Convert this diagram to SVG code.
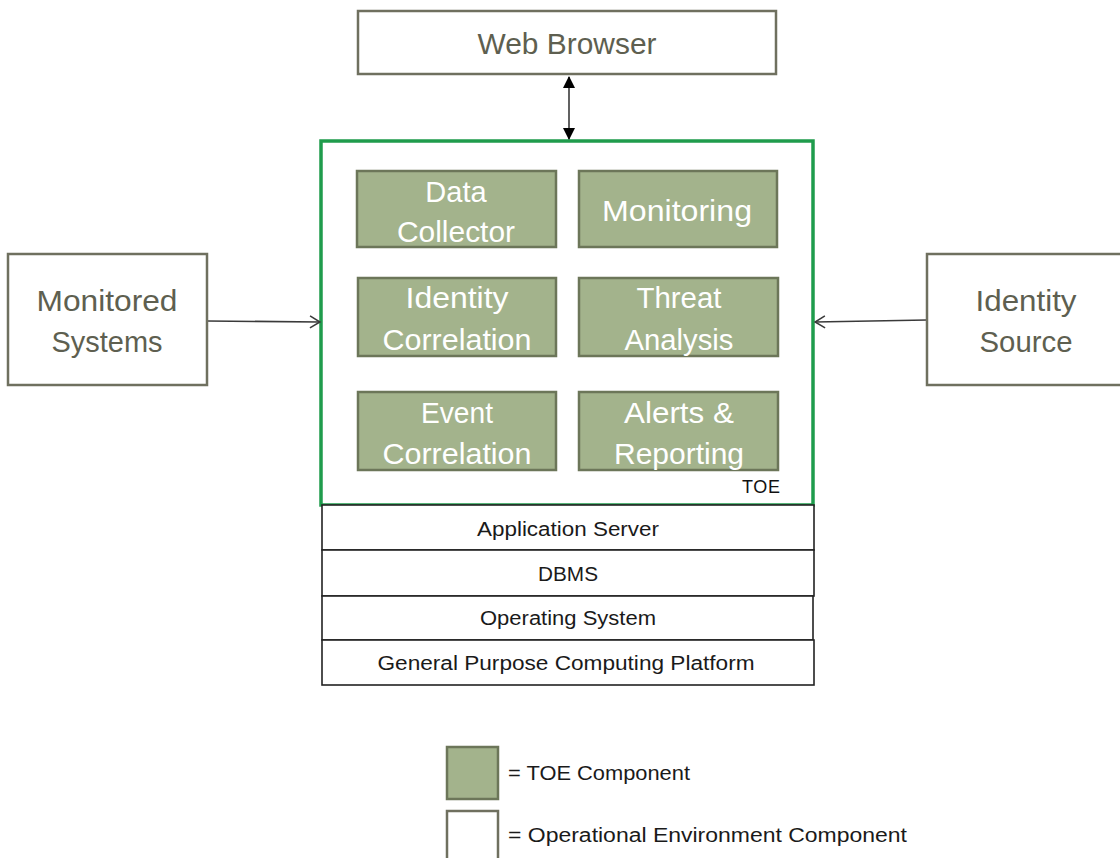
<svg xmlns="http://www.w3.org/2000/svg" width="1120" height="858" viewBox="0 0 1120 858">
  <style>
    .env { fill: #ffffff; stroke: #6f705f; stroke-width: 2.5; }
    .envtxt { font-family: "Liberation Sans", Arial, sans-serif; font-size: 29px; fill: #5e5f50; text-anchor: middle; }
    .comp { fill: #a3b38c; stroke: #6c7659; stroke-width: 2.5; }
    .comptxt { font-family: "Liberation Sans", Arial, sans-serif; font-size: 29px; fill: #ffffff; text-anchor: middle; }
    .layer { fill: #ffffff; stroke: #222222; stroke-width: 1.6; }
    .layertxt { font-family: "Liberation Sans", Arial, sans-serif; font-size: 20px; fill: #1a1a1a; text-anchor: middle; }
    .legtxt { font-family: "Liberation Sans", Arial, sans-serif; font-size: 20px; fill: #1a1a1a; }
    .toe { fill: #ffffff; stroke: #1f9c4c; stroke-width: 3.5; }
    .wire { stroke: #3a3a3a; stroke-width: 1.6; fill: none; }
  </style>
  <defs>
    <marker id="solid" viewBox="0 0 12 12" refX="11" refY="6" markerWidth="12" markerHeight="12" markerUnits="userSpaceOnUse" orient="auto-start-reverse">
      <path d="M0,0 L12,6 L0,12 Z" fill="#000000"/>
    </marker>
    <marker id="open" viewBox="0 0 12 14" refX="11" refY="7" markerWidth="12" markerHeight="14" markerUnits="userSpaceOnUse" orient="auto">
      <path d="M1,1 L11,7 L1,13" fill="none" stroke="#3a3a3a" stroke-width="1.6"/>
    </marker>
  </defs>

  <rect width="1120" height="858" fill="#ffffff"/>

  <!-- TOE boundary -->
  <g id="toe">
    <rect class="toe" x="321" y="141" width="492" height="364"/>
    <text x="761" y="493" font-family="Liberation Sans, Arial, sans-serif" font-size="18" fill="#111111" text-anchor="middle" textLength="38">TOE</text>
  </g>

  <!-- Connectors -->
  <g id="connectors">
    <line class="wire" x1="569" y1="77" x2="569" y2="139" stroke="#000000" marker-start="url(#solid)" marker-end="url(#solid)"/>
    <line class="wire" x1="207" y1="321" x2="320" y2="322" marker-end="url(#open)"/>
    <line class="wire" x1="927" y1="320" x2="815" y2="322" marker-end="url(#open)"/>
  </g>

  <!-- External components -->
  <g id="web-browser">
    <rect class="env" x="358" y="11" width="418" height="63"/>
    <text class="envtxt" x="567" y="54" textLength="179" lengthAdjust="spacingAndGlyphs">Web Browser</text>
  </g>
  <g id="monitored-systems">
    <rect class="env" x="8" y="254" width="199" height="131"/>
    <text class="envtxt" x="107" y="311" textLength="141" lengthAdjust="spacingAndGlyphs">Monitored</text>
    <text class="envtxt" x="107" y="352" textLength="111" lengthAdjust="spacingAndGlyphs">Systems</text>
  </g>
  <g id="identity-source">
    <rect class="env" x="927" y="254" width="200" height="131"/>
    <text class="envtxt" x="1026" y="311" textLength="101" lengthAdjust="spacingAndGlyphs">Identity</text>
    <text class="envtxt" x="1026" y="352" textLength="93" lengthAdjust="spacingAndGlyphs">Source</text>
  </g>

  <!-- TOE components -->
  <g id="data-collector">
    <rect class="comp" x="357" y="171" width="199" height="76"/>
    <text class="comptxt" x="456" y="202">Data</text>
    <text class="comptxt" x="456" y="242" textLength="118" lengthAdjust="spacingAndGlyphs">Collector</text>
  </g>
  <g id="monitoring">
    <rect class="comp" x="579" y="171" width="198" height="76"/>
    <text class="comptxt" x="677" y="221" textLength="150" lengthAdjust="spacingAndGlyphs">Monitoring</text>
  </g>
  <g id="identity-correlation">
    <rect class="comp" x="358" y="278" width="198" height="78"/>
    <text class="comptxt" x="457" y="308" textLength="103" lengthAdjust="spacingAndGlyphs">Identity</text>
    <text class="comptxt" x="457" y="350" textLength="149" lengthAdjust="spacingAndGlyphs">Correlation</text>
  </g>
  <g id="threat-analysis">
    <rect class="comp" x="579" y="278" width="199" height="78"/>
    <text class="comptxt" x="679" y="308" textLength="85" lengthAdjust="spacingAndGlyphs">Threat</text>
    <text class="comptxt" x="679" y="350" textLength="109" lengthAdjust="spacingAndGlyphs">Analysis</text>
  </g>
  <g id="event-correlation">
    <rect class="comp" x="358" y="392" width="198" height="78"/>
    <text class="comptxt" x="457" y="423" textLength="72" lengthAdjust="spacingAndGlyphs">Event</text>
    <text class="comptxt" x="457" y="464" textLength="149" lengthAdjust="spacingAndGlyphs">Correlation</text>
  </g>
  <g id="alerts-reporting">
    <rect class="comp" x="579" y="392" width="199" height="78"/>
    <text class="comptxt" x="679" y="423" textLength="110" lengthAdjust="spacingAndGlyphs">Alerts &amp;</text>
    <text class="comptxt" x="679" y="464" textLength="130" lengthAdjust="spacingAndGlyphs">Reporting</text>
  </g>

  <!-- Platform stack -->
  <g id="application-server">
    <rect class="layer" x="322" y="505" width="492" height="45"/>
    <text class="layertxt" x="568" y="536" textLength="182" lengthAdjust="spacingAndGlyphs">Application Server</text>
  </g>
  <g id="dbms">
    <rect class="layer" x="322" y="550" width="492" height="46"/>
    <text class="layertxt" x="568" y="581" textLength="60" lengthAdjust="spacingAndGlyphs">DBMS</text>
  </g>
  <g id="operating-system">
    <rect class="layer" x="322" y="596" width="491" height="44"/>
    <text class="layertxt" x="568" y="625" textLength="176" lengthAdjust="spacingAndGlyphs">Operating System</text>
  </g>
  <g id="computing-platform">
    <rect class="layer" x="322" y="640" width="492" height="45"/>
    <text class="layertxt" x="566" y="670" textLength="377" lengthAdjust="spacingAndGlyphs">General Purpose Computing Platform</text>
  </g>

  <!-- Legend -->
  <g id="legend-toe">
    <rect class="comp" x="447" y="747" width="51" height="52"/>
    <text class="legtxt" x="508" y="780" textLength="182" lengthAdjust="spacingAndGlyphs">= TOE Component</text>
  </g>
  <g id="legend-env">
    <rect class="env" x="447" y="811" width="51" height="52"/>
    <text class="legtxt" x="508" y="842" textLength="399" lengthAdjust="spacingAndGlyphs">= Operational Environment Component</text>
  </g>
</svg>
